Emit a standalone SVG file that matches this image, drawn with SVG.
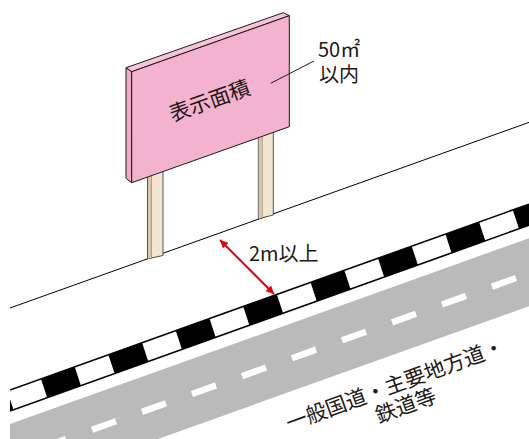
<svg xmlns="http://www.w3.org/2000/svg" width="529" height="439" viewBox="0 0 529 439">
  <defs>
    <style>
      .lbl { font-family: "Noto Sans CJK JP", "Noto Sans", sans-serif; fill: #231815; }
      .blk { fill: #000; }
      .dash { fill: #fff; }
      .edge { stroke: #000; stroke-width: 1.6; fill: none; }
      .post { fill: #f3e5d0; stroke: #444; stroke-width: 0.9; }
      .strip { fill: #d9c7ad; }
      .face { stroke: #231815; stroke-width: 1; stroke-linejoin: round; }
    </style>
    <clipPath id="clipL"><rect x="10" y="0" width="519" height="439"/></clipPath>
    <marker id="ah" viewBox="0 0 10 10" refX="10" refY="5" markerWidth="10" markerHeight="8" markerUnits="userSpaceOnUse" orient="auto-start-reverse">
      <path d="M0,0 L10,5 L0,10 z" fill="#e60012"/>
    </marker>
  </defs>
  <rect width="529" height="439" fill="#fff"/>

  <g id="road" clip-path="url(#clipL)">
    <g transform="translate(10,390) matrix(1 -0.358 0.33 1 0 0)">
      <rect x="-60" y="30.4" width="700" height="60.8" fill="#b9bab9"/>
      <rect class="dash" x="11.6" y="58.8" width="24" height="6.1"/>
      <rect class="dash" x="61.6" y="58.8" width="24" height="6.1"/>
      <rect class="dash" x="111.6" y="58.8" width="24" height="6.1"/>
      <rect class="dash" x="161.6" y="58.8" width="24" height="6.1"/>
      <rect class="dash" x="211.6" y="58.8" width="24" height="6.1"/>
      <rect class="dash" x="261.6" y="58.8" width="24" height="6.1"/>
      <rect class="dash" x="311.6" y="58.8" width="24" height="6.1"/>
      <rect class="dash" x="361.6" y="58.8" width="24" height="6.1"/>
      <rect class="dash" x="411.6" y="58.8" width="24" height="6.1"/>
      <rect class="dash" x="461.6" y="58.8" width="24" height="6.1"/>
      <rect x="-40" y="0" width="600" height="18.8" fill="#fff"/>
      <rect class="blk" x="-36.4" y="0" width="33.7" height="18.8"/>
      <rect class="blk" x="31" y="0" width="33.7" height="18.8"/>
      <rect class="blk" x="98.4" y="0" width="33.7" height="18.8"/>
      <rect class="blk" x="165.8" y="0" width="33.7" height="18.8"/>
      <rect class="blk" x="233.2" y="0" width="33.7" height="18.8"/>
      <rect class="blk" x="300.6" y="0" width="33.7" height="18.8"/>
      <rect class="blk" x="368" y="0" width="33.7" height="18.8"/>
      <rect class="blk" x="435.4" y="0" width="33.7" height="18.8"/>
      <rect class="blk" x="502.8" y="0" width="33.7" height="18.8"/>
    </g>
    <line class="edge" x1="10" y1="390" x2="529" y2="204.2"/>
    <line class="edge" x1="10" y1="411" x2="529" y2="225.2"/>
    <line x1="10" y1="308" x2="529" y2="122.4" stroke="#000" stroke-width="1"/>
  </g>

  <g id="sign">
    <g id="post-left">
      <polygon class="post" points="147.5,165 163,165 163,255.5 147.5,258.8"/>
      <polygon class="strip" points="148,165 151.5,165 151.5,257.8 148,258.4"/>
      <line x1="151.5" y1="165" x2="151.5" y2="257.8" stroke="#8a7a66" stroke-width="0.6"/>
    </g>
    <g id="post-right">
      <polygon class="post" points="258.3,120 273.3,120 273.3,215 258.3,218.8"/>
      <polygon class="strip" points="258.8,120 262.3,120 262.3,217.8 258.8,218.5"/>
      <line x1="262.3" y1="120" x2="262.3" y2="217.8" stroke="#8a7a66" stroke-width="0.6"/>
    </g>
    <g id="board">
      <polygon class="face" fill="#f0aac8" points="126,67.7 131.7,71.7 131.7,182.7 126,178.3"/>
      <polygon class="face" fill="#f6c4da" points="126,67.7 283.3,12.7 289.3,15.7 131.7,71.7"/>
      <polygon class="face" fill="#f3b2ce" points="131.7,71.7 289.3,15.7 289.3,126.7 131.7,182.7"/>
      <text class="lbl" font-size="21" text-anchor="middle" transform="translate(209.5,100.3) rotate(-19.5)" x="0" y="8">表示面積</text>
    </g>
  </g>

  <g id="connectors">
    <line x1="314" y1="61" x2="270.7" y2="83.3" stroke="#231815" stroke-width="1"/>
    <line x1="220" y1="240" x2="274" y2="294" stroke="#e60012" stroke-width="2" marker-start="url(#ah)" marker-end="url(#ah)"/>
  </g>

  <g id="labels">
    <g id="area-label">
      <text class="lbl" font-size="20" x="318" y="57">50㎡</text>
      <text class="lbl" font-size="20" x="319" y="82">以内</text>
    </g>
    <g id="distance-label">
      <text class="lbl" font-size="20" x="249" y="261">2m以上</text>
    </g>
    <g id="road-label">
      <text class="lbl" font-size="21" text-anchor="middle" transform="translate(395,384) rotate(-20)" x="0" y="8">一般国道・主要地方道・</text>
      <text class="lbl" font-size="21" text-anchor="middle" transform="translate(405.7,405) rotate(-20)" x="0" y="8">鉄道等</text>
    </g>
  </g>
</svg>
